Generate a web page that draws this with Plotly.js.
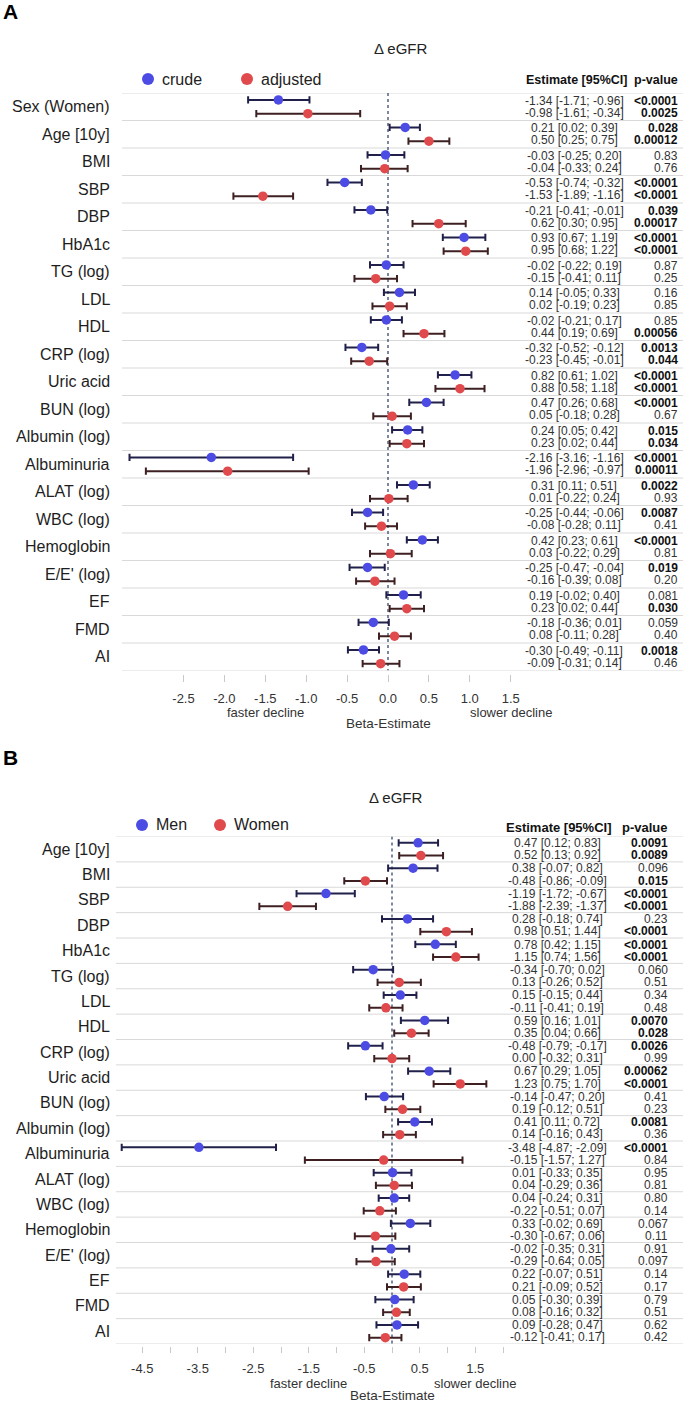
<!DOCTYPE html>
<html><head><meta charset="utf-8">
<script src="https://cdn.plot.ly/plotly-3.0.1.min.js"></script>
<style>html,body{margin:0;padding:0;background:#fff}#chart{width:685px;height:1403px}</style>
</head><body><div id="chart"></div>
<script>
// ---------------- DATA ----------------
const catsA = ["Sex (Women)","Age [10y]","BMI","SBP","DBP","HbA1c","TG (log)","LDL","HDL","CRP (log)","Uric acid","BUN (log)","Albumin (log)","Albuminuria","ALAT (log)","WBC (log)","Hemoglobin","E/E' (log)","EF","FMD","AI"];
const crudeEst = [-1.34,0.21,-0.03,-0.53,-0.21,0.93,-0.02,0.14,-0.02,-0.32,0.82,0.47,0.24,-2.16,0.31,-0.25,0.42,-0.25,0.19,-0.18,-0.30];
const crudeLo  = [-1.71,0.02,-0.25,-0.74,-0.41,0.67,-0.22,-0.05,-0.21,-0.52,0.61,0.26,0.05,-3.16,0.11,-0.44,0.23,-0.47,-0.02,-0.36,-0.49];
const crudeHi  = [-0.96,0.39,0.20,-0.32,-0.01,1.19,0.19,0.33,0.17,-0.12,1.02,0.68,0.42,-1.16,0.51,-0.06,0.61,-0.04,0.40,0.01,-0.11];
const crudeP   = ["<0.0001","0.028","0.83","<0.0001","0.039","<0.0001","0.87","0.16","0.85","0.0013","<0.0001","<0.0001","0.015","<0.0001","0.0022","0.0087","<0.0001","0.019","0.081","0.059","0.0018"];
const adjEst = [-0.98,0.50,-0.04,-1.53,0.62,0.95,-0.15,0.02,0.44,-0.23,0.88,0.05,0.23,-1.96,0.01,-0.08,0.03,-0.16,0.23,0.08,-0.09];
const adjLo  = [-1.61,0.25,-0.33,-1.89,0.30,0.68,-0.41,-0.19,0.19,-0.45,0.58,-0.18,0.02,-2.96,-0.22,-0.28,-0.22,-0.39,0.02,-0.11,-0.31];
const adjHi  = [-0.34,0.75,0.24,-1.16,0.95,1.22,0.11,0.23,0.69,-0.01,1.18,0.28,0.44,-0.97,0.24,0.11,0.29,0.08,0.44,0.28,0.14];
const adjP   = ["0.0025","0.00012","0.76","<0.0001","0.00017","<0.0001","0.25","0.85","0.00056","0.044","<0.0001","0.67","0.034","0.00011","0.93","0.41","0.81","0.20","0.030","0.40","0.46"];

const catsB = ["Age [10y]","BMI","SBP","DBP","HbA1c","TG (log)","LDL","HDL","CRP (log)","Uric acid","BUN (log)","Albumin (log)","Albuminuria","ALAT (log)","WBC (log)","Hemoglobin","E/E' (log)","EF","FMD","AI"];
const menEst = [0.47,0.38,-1.19,0.28,0.78,-0.34,0.15,0.59,-0.48,0.67,-0.14,0.41,-3.48,0.01,0.04,0.33,-0.02,0.22,0.05,0.09];
const menLo  = [0.12,-0.07,-1.72,-0.18,0.42,-0.70,-0.15,0.16,-0.79,0.29,-0.47,0.11,-4.87,-0.33,-0.24,-0.02,-0.35,-0.07,-0.30,-0.28];
const menHi  = [0.83,0.82,-0.67,0.74,1.15,0.02,0.44,1.01,-0.17,1.05,0.20,0.72,-2.09,0.35,0.31,0.69,0.31,0.51,0.39,0.47];
const menP   = ["0.0091","0.096","<0.0001","0.23","<0.0001","0.060","0.34","0.0070","0.0026","0.00062","0.41","0.0081","<0.0001","0.95","0.80","0.067","0.91","0.14","0.79","0.62"];
const womEst = [0.52,-0.48,-1.88,0.98,1.15,0.13,-0.11,0.35,0.00,1.23,0.19,0.14,-0.15,0.04,-0.22,-0.30,-0.29,0.21,0.08,-0.12];
const womLo  = [0.13,-0.86,-2.39,0.51,0.74,-0.26,-0.41,0.04,-0.32,0.75,-0.12,-0.16,-1.57,-0.29,-0.51,-0.67,-0.64,-0.09,-0.16,-0.41];
const womHi  = [0.92,-0.09,-1.37,1.44,1.56,0.52,0.19,0.66,0.31,1.70,0.51,0.43,1.27,0.36,0.07,0.06,0.05,0.52,0.32,0.17];
const womP   = ["0.0089","0.015","<0.0001","<0.0001","<0.0001","0.51","0.48","0.028","0.99","<0.0001","0.23","0.36","0.84","0.81","0.14","0.11","0.097","0.17","0.51","0.42"];

const tickValsA = [-2.5,-2.0,-1.5,-1.0,-0.5,0.0,0.5,1.0,1.5];
const tickTextA = ["-2.5","-2.0","-1.5","-1.0","-0.5","0.0","0.5","1.0","1.5"];
const tickValsB = [-4.5,-4.0,-3.5,-3.0,-2.5,-2.0,-1.5,-1.0,-0.5,0.0,0.5,1.0,1.5,2.0];
const tickTextB = ["-4.5","","-3.5","","-2.5","","-1.5","","-0.5","","0.5","","1.5",""];
const legendA = ["crude","adjusted"];
const legendB = ["Men","Women"];

// ---------------- STYLE / GEOMETRY ----------------
const W = 685, H = 1403;
const px = v => v / W, py = v => 1 - v / H;
const BLUE = "#4c4ce4", RED = "#e04a4c", BAR1 = "#20204a", BAR2 = "#3e2022";
const FONT = "Liberation Sans, Arial, Helvetica, sans-serif";

const panels = [
  {key:"A", xa:"x", ya:"y", top:93, bottom:670.5, left:118, right:682, lineLeft:122, zero:388, unit:81.8,
   cats:catsA, s1:[crudeEst,crudeLo,crudeHi,crudeP], s2:[adjEst,adjLo,adjHi,adjP], leg:legendA,
   tv:tickValsA, tt:tickTextA, labelY:11, titleY:48, titleX:401, legY:79, leg1:148, leg2:247,
   hdrY:80, hdrL:524, hdrSize:12.5, pRight:680, estC:574, fdY:712, betaY:723.5, off:0.25, txtOff:0.21,
   axGap:3.5, tlen:7, tstand:5},
  {key:"B", xa:"x2", ya:"y2", top:836.5, bottom:1344, left:116, right:682, lineLeft:116, zero:392, unit:55.5,
   cats:catsB, s1:[menEst,menLo,menHi,menP], s2:[womEst,womLo,womHi,womP], leg:legendB,
   tv:tickValsB, tt:tickTextB, labelY:757, titleY:797, titleX:396, legY:825, leg1:142, leg2:220,
   hdrY:827, hdrL:504, hdrSize:13, pRight:670, estC:557, fdY:1383.5, betaY:1395.5, off:0.25, txtOff:0.24,
   axGap:1.5, tlen:6, tstand:5}
];

const traces = [], shapes = [], annotations = [];
const layout = {
  width: W, height: H, margin: {l:0, r:0, t:0, b:0}, showlegend: false,
  paper_bgcolor: "#fff", plot_bgcolor: "#fff", font: {family: FONT, color: "#222"}
};

const isSig = p => p.startsWith("<") || parseFloat(p) < 0.05;
const f2 = v => v.toFixed(2);

panels.forEach((P, pi) => {
  const n = P.cats.length;
  const idx = P.cats.map((_, i) => i);
  const axX = pi === 0 ? "xaxis" : "xaxis2";
  const axY = pi === 0 ? "yaxis" : "yaxis2";
  layout[axX] = {
    domain: [px(P.left), px(P.right)],
    range: [(P.left - P.zero) / P.unit, (P.right - P.zero) / P.unit],
    anchor: "free", position: py(P.bottom + P.axGap),
    showgrid: false, zeroline: false, showline: false,
    ticks: "outside", ticklen: P.tlen, tickwidth: 1, tickcolor: "#c9c9c9",
    tickmode: "array", tickvals: P.tv, ticktext: P.tt, ticklabelstandoff: P.tstand,
    tickfont: {size: 13, color: "#333", family: FONT}, fixedrange: true
  };
  layout[axY] = {
    domain: [py(P.bottom), py(P.top)], range: [n - 0.5, -0.5], anchor: P.xa,
    showgrid: false, zeroline: false, showline: false, showticklabels: false, ticks: "", fixedrange: true
  };

  const mk = (S, sign, mcol, bcol) => ({
    type: "scatter", mode: "markers", xaxis: P.xa, yaxis: P.ya,
    x: S[0], y: idx.map(i => i + sign * P.off),
    error_x: {type: "data", symmetric: false,
      array: S[0].map((e, i) => S[2][i] - e), arrayminus: S[0].map((e, i) => e - S[1][i]),
      color: bcol, thickness: 2, width: 3.6},
    marker: {color: mcol, size: 9.5, line: {width: 0}},
    hoverinfo: "skip"
  });
  traces.push(mk(P.s1, -1, BLUE, BAR1));
  traces.push(mk(P.s2, 1, RED, BAR2));

  // row separators
  for (let k = 0; k <= n; k++) {
    shapes.push({type: "line", xref: "paper", yref: P.ya, x0: px(P.lineLeft), x1: px(683),
      y0: k - 0.5, y1: k - 0.5, line: {color: "#d9d9d9", width: 1}, layer: "below"});
  }
  // zero line
  shapes.push({type: "line", xref: P.xa, yref: P.ya, x0: 0, x1: 0, y0: -0.5, y1: n - 0.5,
    line: {color: "#46557a", width: 1.4, dash: "dot"}, layer: "below"});

  // row labels + table
  P.cats.forEach((c, i) => {
    annotations.push({xref: "paper", yref: P.ya, x: px(112), y: i, xanchor: "right", yanchor: "middle",
      text: c, showarrow: false, font: {size: 16, color: "#1e1e1e", family: FONT}});
    [[P.s1, -1], [P.s2, 1]].forEach(([S, sg]) => {
      annotations.push({xref: "paper", yref: P.ya, x: px(P.estC), y: i + sg * P.txtOff, xanchor: "center", yanchor: "middle",
        text: f2(S[0][i]) + " [" + f2(S[1][i]) + "; " + f2(S[2][i]) + "]", showarrow: false,
        font: {size: 12, color: "#333", family: FONT}});
      const p = S[3][i];
      annotations.push({xref: "paper", yref: P.ya, x: px(P.pRight), y: i + sg * P.txtOff, xanchor: "right", yanchor: "middle",
        text: isSig(p) ? "<b>" + p + "</b>" : p, showarrow: false,
        font: {size: 12, color: isSig(p) ? "#111" : "#333", family: FONT}});
    });
  });

  // header
  annotations.push({xref: "paper", yref: "paper", x: px(P.hdrL), y: py(P.hdrY), xanchor: "left", yanchor: "middle",
    text: "<b>Estimate [95%CI]</b>", showarrow: false, font: {size: P.hdrSize, color: "#111", family: FONT}});
  annotations.push({xref: "paper", yref: "paper", x: px(P.pRight), y: py(P.hdrY), xanchor: "right", yanchor: "middle",
    text: "<b>p-value</b>", showarrow: false, font: {size: P.hdrSize, color: "#111", family: FONT}});
  // title
  annotations.push({xref: "paper", yref: "paper", x: px(P.titleX), y: py(P.titleY), xanchor: "center", yanchor: "middle",
    text: "\u0394 eGFR", showarrow: false, font: {size: 15, color: "#222", family: FONT}});
  // panel letter
  annotations.push({xref: "paper", yref: "paper", x: px(1), y: py(P.labelY), xanchor: "left", yanchor: "middle",
    text: "<b>" + P.key + "</b>", showarrow: false, font: {size: 21, color: "#000", family: FONT}});
  // legend
  [[P.leg1, BLUE, P.leg[0]], [P.leg2, RED, P.leg[1]]].forEach(([cx, col, lab]) => {
    shapes.push({type: "circle", xref: "paper", yref: "paper", x0: px(cx - 6), x1: px(cx + 6),
      y0: py(P.legY + 6), y1: py(P.legY - 6), fillcolor: col, line: {width: 0}});
    annotations.push({xref: "paper", yref: "paper", x: px(cx + 12), y: py(P.legY), xanchor: "left", yanchor: "middle",
      text: lab, showarrow: false, font: {size: 16, color: "#222", family: FONT}});
  });
  // axis annotations
  annotations.push({xref: P.xa, yref: "paper", x: -1.5, y: py(P.fdY), xanchor: "center", yanchor: "middle",
    text: "faster decline", showarrow: false, font: {size: 13, color: "#333", family: FONT}});
  annotations.push({xref: P.xa, yref: "paper", x: 1.5, y: py(P.fdY), xanchor: "center", yanchor: "middle",
    text: "slower decline", showarrow: false, font: {size: 13, color: "#333", family: FONT}});
  annotations.push({xref: P.xa, yref: "paper", x: 0, y: py(P.betaY), xanchor: "center", yanchor: "middle",
    text: "Beta-Estimate", showarrow: false, font: {size: 13.5, color: "#333", family: FONT}});
});

layout.shapes = shapes;
layout.annotations = annotations;
Plotly.newPlot("chart", traces, layout, {staticPlot: true, displayModeBar: false});
</script></body></html>
